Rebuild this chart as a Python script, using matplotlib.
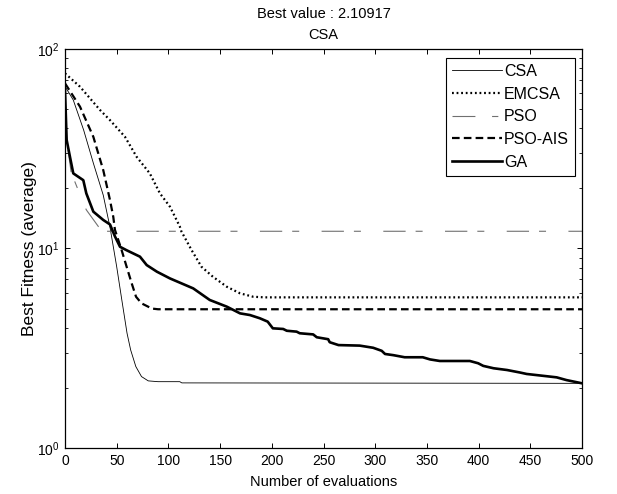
import matplotlib
matplotlib.use("Agg")
import matplotlib.pyplot as plt
from matplotlib.ticker import LogLocator, NullFormatter

plt.rcParams['font.family'] = ['Liberation Sans', 'DejaVu Sans']
plt.rcParams['mathtext.fontset'] = 'custom'
plt.rcParams['mathtext.rm'] = 'Liberation Sans'
plt.rcParams['mathtext.it'] = 'Liberation Sans'
plt.rcParams['mathtext.default'] = 'regular'
plt.rcParams['lines.scale_dashes'] = False

title_lines = ["Best value : 2.10917", "CSA"]
xlabel = "Number of evaluations"
ylabel = "Best Fitness (average)"
xticks = [0, 50, 100, 150, 200, 250, 300, 350, 400, 450, 500]

csa_x = [0, 8, 18, 27.5, 37, 43.5, 50, 55, 60, 63.5, 68.5, 74, 80.5, 90, 111, 113, 500]
csa_y = [65, 55.5, 39.3, 26.7, 18.5, 12.8, 8.1, 5.5, 3.76, 3.10, 2.56, 2.28, 2.17, 2.15, 2.15, 2.12, 2.109]

emcsa_x = [0, 14.5, 33.8, 43.5, 58, 69.3, 82, 91.8, 101.5, 111, 112.5, 122.5, 132, 143,
           156.5, 169.3, 182, 193, 500]
emcsa_y = [75.5, 64.7, 49.5, 44, 36.3, 28.8, 23.8, 18.9, 16.2, 12.9, 12.2, 9.8, 8.1, 7.22,
           6.43, 5.96, 5.73, 5.69, 5.69]

pso_x = [0, 6, 12.8, 14.5, 20.7, 32.2, 38, 500]
pso_y = [40, 24, 19.6, 18.2, 15.6, 12.9, 12.2, 12.2]

psoais_x = [0, 14.5, 27.4, 37, 43.5, 46.7, 48.3, 54.8, 59.6, 64.5, 68.7, 74, 84, 90, 500]
psoais_y = [67.3, 51.4, 36.3, 24.7, 17.5, 14.4, 12.4, 9.8, 8.1, 6.69, 5.73, 5.31, 5.0, 4.96, 4.96]

ga_x = [0, 1.6, 4.8, 8, 17.7, 20.6, 27.4, 37, 43.5, 48.3, 53.2, 59.6, 72.5, 79, 88.9, 101.5,
        124, 140, 156.5, 169.3, 178.8, 188.4, 196, 201, 211, 214.5, 224, 227, 240, 243.5,
        254.5, 256, 264.5, 285, 298, 306.3, 309.5, 317.5, 328.5, 346, 353, 362.5, 391.5,
        399.5, 404.5, 414.5, 427.5, 440, 446.5, 462.5, 475.5, 485, 500]
ga_y = [62, 35, 28.8, 23.8, 22, 18.9, 15.3, 13.9, 13.2, 11.5, 10.2, 9.8, 9.1, 8.26, 7.65, 7.08,
        6.31, 5.52, 5.11, 4.73, 4.64, 4.47, 4.30, 3.98, 3.95, 3.87, 3.83, 3.76, 3.71, 3.59,
        3.51, 3.39, 3.28, 3.26, 3.18, 3.07, 2.96, 2.92, 2.85, 2.85, 2.78, 2.73, 2.73,
        2.66, 2.58, 2.51, 2.46, 2.39, 2.35, 2.30, 2.26, 2.19, 2.11]

fig = plt.figure(figsize=(6.17, 4.94), dpi=100)
ax = fig.add_axes([65/617, 1 - 448/494, (582-65)/617, (448-49)/494])

ax.plot(csa_x, csa_y, color='black', lw=0.6, label='CSA')
ax.plot(emcsa_x, emcsa_y, color='black', lw=1.6, linestyle=(0, (1.3, 2.0)), label='EMCSA')
ax.plot(pso_x, pso_y, color='#707070', lw=0.8,
        linestyle=(28.7, (16.06, 7.2, 5.04, 16.13)), label='PSO')
ax.plot(psoais_x, psoais_y, color='black', lw=1.6, linestyle=(0, (5.5, 3)), label='PSO-AIS')
ax.plot(ga_x, ga_y, color='black', lw=1.9, label='GA')

ax.set_yscale('log')
ax.set_xlim(0, 500)
ax.set_ylim(1, 100)
ax.set_xticks(xticks)
ax.yaxis.set_minor_locator(LogLocator(base=10, subs=range(2, 10)))
ax.yaxis.set_minor_formatter(NullFormatter())
ax.tick_params(which='both', direction='in', top=True, right=True, labelsize=10, colors='black')
ax.tick_params(which='major', length=3.5, width=0.7, pad=4)
ax.tick_params(which='minor', length=2, width=0.6)
for s in ax.spines.values():
    s.set_linewidth(0.9)

ax.set_xlabel(xlabel, fontsize=10.5, labelpad=5)
ax.set_ylabel(ylabel, fontsize=12.5, labelpad=0)
ax.set_title("\n".join(title_lines), fontsize=10.5, linespacing=1.65, pad=7)

leg = ax.legend(loc='upper right', bbox_to_anchor=(1 - 7/517, 1 - 9/399), borderaxespad=0,
                fontsize=11.5, handlelength=3.1, handletextpad=0.15, labelspacing=0.48,
                fancybox=False, framealpha=1, edgecolor='black', borderpad=0.38)
leg.get_frame().set_linewidth(0.8)
leg.get_lines()[2].set_linestyle((0, (16.5, 12.0, 4.5, 16.0)))

fig.savefig('out.png', dpi=100)
